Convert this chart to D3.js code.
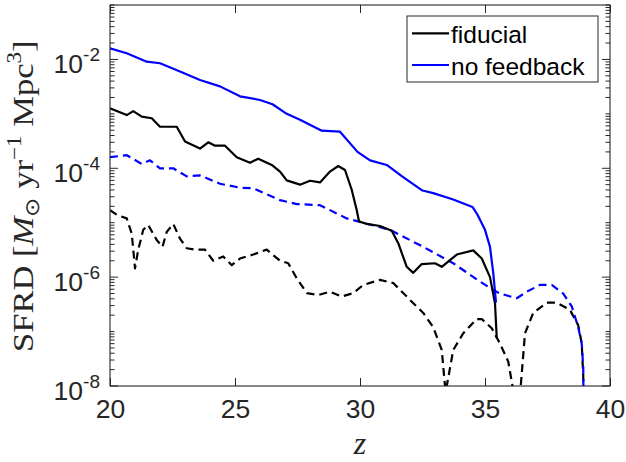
<!DOCTYPE html>
<html lang="en">
<head>
<meta charset="utf-8">
<title>SFRD vs z</title>
<script src="https://d3js.org/d3.v7.min.js"></script>
<style>
  body { margin: 0; background: #fff; }
  svg { display: block; }
</style>
</head>
<body>
<svg width="626" height="462"></svg>
<script>
// values (SFRD in M_sun / yr / Mpc^3)
var fidSolidZ = [20, 20.67, 20.93, 21.27, 21.67, 22.0, 22.67, 23.0, 23.6, 23.93, 24.2, 24.6, 25.07, 25.6, 25.93, 26.47,
  26.8, 27.07, 27.6, 28.0, 28.4, 28.8, 29.13, 29.4, 29.67, 29.87, 29.96, 30.27, 30.8, 31.27, 31.53, 31.87, 32.13,
  32.47, 33.0, 33.27, 33.87, 34.53, 34.87, 35.2, 35.4, 35.47];
var fidSolidV = [1.26e-3, 9.5e-4, 1.12e-3, 8.9e-4, 8.3e-4, 5.8e-4, 5.8e-4, 3.1e-4, 2.3e-4, 3.0e-4, 2.6e-4, 2.6e-4, 1.6e-4, 1.26e-4, 1.5e-4, 1.15e-4,
  8.7e-5, 6.0e-5, 5.0e-5, 5.9e-5, 5.5e-5, 8.7e-5, 1.1e-4, 9.3e-5, 4.0e-5, 1.7e-5, 1.05e-5, 9.5e-6, 8.7e-6, 7.1e-6, 4.2e-6, 1.55e-6, 1.2e-6,
  1.74e-6, 1.8e-6, 1.55e-6, 2.6e-6, 3.1e-6, 2.2e-6, 1.0e-6, 3.3e-7, 7.6e-8];

var noFbSolidZ = [20, 20.67, 21.47, 22.0, 22.8, 23.6, 24.4, 25.2, 26.0, 26.5, 27.07, 27.6, 28.47, 29.2, 29.9, 30.4,
  31.07, 31.67, 32.5, 32.93, 33.7, 34.5, 34.7, 35.0, 35.2, 35.33, 35.44];
var noFbSolidV = [1.6e-2, 1.3e-2, 9.1e-3, 8.5e-3, 6.0e-3, 4.2e-3, 3.2e-3, 2.1e-3, 1.8e-3, 1.5e-3, 1.0e-3, 7.8e-4, 4.9e-4, 4.7e-4, 2.0e-4, 1.4e-4,
  1.15e-4, 7.2e-5, 3.9e-5, 3.5e-5, 2.7e-5, 1.95e-5, 1.4e-5, 7.4e-6, 3.6e-6, 1.2e-6, 3.4e-7];

var fidDashZ = [20, 20.27, 20.67, 20.87, 21.0, 21.13, 21.33, 21.53, 21.87, 22.1, 22.27, 22.53, 22.8, 23.07, 23.4, 23.8,
  24.13, 24.53, 24.87, 25.2, 25.73, 26.27, 26.8, 27.13, 27.47, 27.87, 28.33, 28.8, 29.27, 29.73, 30.13, 30.8,
  31.33, 31.87, 32.0, 32.53, 32.93, 33.27, 33.4, 33.43, 33.47, 33.73, 34.13, 34.67, 34.87, 35.27, 35.6, 35.93,
  36.1, 36.25, 36.43, 36.6, 36.93, 37.47, 37.87, 38.4, 38.73, 38.87, 38.93, 38.96];
var fidDashV = [1.7e-5, 1.4e-5, 1.2e-5, 6.3e-6, 1.45e-6, 3.2e-6, 7.4e-6, 9.1e-6, 4.8e-6, 3.6e-6, 6.8e-6, 9.5e-6, 5.1e-6, 3.4e-6, 3.2e-6, 3.2e-6,
  2.0e-6, 2.4e-6, 1.66e-6, 2.2e-6, 2.6e-6, 3.2e-6, 2.0e-6, 1.8e-6, 9.5e-7, 5.1e-7, 4.7e-7, 5.4e-7, 4.4e-7, 5.1e-7, 7.2e-7, 8.9e-7,
  7.8e-7, 4.4e-7, 3.8e-7, 2.2e-7, 1.2e-7, 4.6e-8, 1e-8, 1e-10, 1e-8, 4.6e-8, 9.3e-8, 1.7e-7, 1.7e-7, 1.15e-7, 6.0e-8, 2.8e-8,
  1e-8, 1e-10, 1e-8, 9.3e-8, 2.2e-7, 3.4e-7, 3.4e-7, 2.5e-7, 1.3e-7, 6.0e-8, 1.5e-8, 1e-10];

var noFbDashZ = [20, 20.67, 21.27, 21.6, 22.0, 22.53, 23.07, 23.6, 24.4, 25.2, 25.73, 26.8, 27.47, 28.4, 29.47, 31.2,
  32.53, 33.73, 34.8, 35.33, 35.6, 36.27, 36.67, 37.2, 37.67, 38.13, 38.47, 38.73, 38.87, 38.93, 38.97];
var noFbDashV = [1.6e-4, 1.74e-4, 1.2e-4, 1.4e-4, 1.0e-4, 1.0e-4, 7.1e-5, 7.4e-5, 5.2e-5, 4.4e-5, 4.3e-5, 2.6e-5, 2.2e-5, 2.1e-5, 1.2e-5, 7.4e-6,
  3.6e-6, 1.8e-6, 8.3e-7, 5.8e-7, 5.0e-7, 4.1e-7, 5.4e-7, 7.2e-7, 7.2e-7, 5.0e-7, 2.9e-7, 1.2e-7, 6.0e-8, 2.2e-8, 1e-10];

var xTicks = [20, 25, 30, 35, 40];
var yTickExps = [-8, -6, -4, -2];
var legendLabels = ["fiducial", "no feedback"];
var legendColors = ["#000000", "#0000ff"];

var axisCol = "#262626";
var L = 110, R = 610, T = 5, B = 386;

var svg = d3.select("svg");
var x = d3.scaleLinear().domain([20, 40]).range([L, R]);
var y = d3.scaleLog().domain([1e-8, 1e-1]).range([B, T]);

svg.append("clipPath").attr("id", "plotclip")
  .append("rect").attr("x", L).attr("y", T).attr("width", R - L).attr("height", B - T);

function pairs(zs, vs) { return zs.map(function (z, i) { return [z, vs[i]]; }); }
var line = d3.line().x(function (d) { return x(d[0]); }).y(function (d) { return y(d[1]); });

var series = [
  { data: pairs(fidDashZ, fidDashV), color: "#000000", dash: "8,5" },
  { data: pairs(noFbDashZ, noFbDashV), color: "#0000ff", dash: "8,5" },
  { data: pairs(fidSolidZ, fidSolidV), color: "#000000", dash: null },
  { data: pairs(noFbSolidZ, noFbSolidV), color: "#0000ff", dash: null }
];

var g = svg.append("g").attr("clip-path", "url(#plotclip)");
series.forEach(function (s) {
  g.append("path")
    .attr("d", line(s.data))
    .attr("fill", "none")
    .attr("stroke", s.color)
    .attr("stroke-width", 2.2)
    .attr("stroke-linejoin", "round")
    .attr("stroke-dasharray", s.dash);
});

// box
svg.append("rect").attr("x", L).attr("y", T).attr("width", R - L).attr("height", B - T)
  .attr("fill", "none").attr("stroke", axisCol).attr("stroke-width", 1.1);

// x ticks (bottom + top, inward)
var xaxB = d3.axisBottom(x).tickValues(xTicks).tickSizeInner(-8).tickSizeOuter(0).tickPadding(12);
var gxb = svg.append("g").attr("transform", "translate(0," + B + ")").call(xaxB);
gxb.select(".domain").remove();
gxb.selectAll("line").attr("stroke", axisCol);
gxb.selectAll("text").attr("font-family", "Liberation Sans, Arial, sans-serif")
  .attr("font-size", 26.5).attr("fill", axisCol).attr("dy", "0.74em");

var xaxT = d3.axisTop(x).tickValues(xTicks).tickSizeInner(-8).tickSizeOuter(0).tickFormat("");
var gxt = svg.append("g").attr("transform", "translate(0," + T + ")").call(xaxT);
gxt.select(".domain").remove();
gxt.selectAll("line").attr("stroke", axisCol);

// y ticks, log minor ticks, both sides
var minor = [];
for (var e = -8; e < -1; e++) {
  for (var m = 1; m <= 9; m++) minor.push(m * Math.pow(10, e));
}
minor.push(1e-1);
var major = yTickExps.map(function (k) { return Math.pow(10, k); });

[[L, 1], [R, -1]].forEach(function (side) {
  var gy = svg.append("g");
  gy.selectAll("line.minor").data(minor).enter().append("line")
    .attr("x1", side[0]).attr("x2", function (d) {
      var isMajor = major.some(function (v) { return Math.abs(v / d - 1) < 1e-6; });
      return side[0] + side[1] * (isMajor ? 8 : 4.5);
    })
    .attr("y1", function (d) { return y(d); }).attr("y2", function (d) { return y(d); })
    .attr("stroke", axisCol).attr("stroke-width", 1);
});

// y tick labels 10^k
var yl = svg.append("g").attr("font-family", "Liberation Sans, Arial, sans-serif").attr("fill", axisCol);
yTickExps.forEach(function (k) {
  var t = yl.append("text").attr("x", 100).attr("y", y(Math.pow(10, k)) + 14).attr("text-anchor", "end");
  t.append("tspan").attr("font-size", 26.5).text("10");
  t.append("tspan").attr("font-size", 19).attr("dy", -12).text(String(k).replace("-", "-"));
});

// axis labels
svg.append("text").attr("x", 360).attr("y", 454).attr("text-anchor", "middle")
  .attr("font-family", "Liberation Serif, serif").attr("font-style", "italic")
  .attr("font-size", 32).attr("fill", axisCol).text("z");

var ylab = svg.append("text").attr("font-family", "Liberation Serif, serif")
  .attr("font-size", 30).attr("fill", axisCol);
ylab.append("tspan").text("SFRD [");
ylab.append("tspan").attr("font-style", "italic").text("M");
ylab.append("tspan").attr("font-size", 20).attr("dy", 6).text("\u2299");
ylab.append("tspan").attr("dy", -6).text(" yr");
ylab.append("tspan").attr("font-size", 20).attr("dy", -12).text("\u22121");
ylab.append("tspan").attr("dy", 12).text(" Mpc");
ylab.append("tspan").attr("font-size", 20).attr("dy", -12).text("3");
ylab.append("tspan").attr("dy", 12).text("]");
var w = ylab.node().getComputedTextLength();
ylab.attr("transform", "translate(33,196) rotate(-90) scale(" + (312 / w) + ",1) translate(" + (-w / 2) + ",0)");

// legend
var lg = svg.append("g");
lg.append("rect").attr("x", 407).attr("y", 16).attr("width", 191).attr("height", 66)
  .attr("fill", "#fff").attr("stroke", axisCol).attr("stroke-width", 1);
legendLabels.forEach(function (lab, i) {
  var cy = 33.3 + i * 31.7;
  lg.append("line").attr("x1", 412).attr("x2", 449).attr("y1", cy).attr("y2", cy)
    .attr("stroke", legendColors[i]).attr("stroke-width", 2.2);
  lg.append("text").attr("x", 451).attr("y", cy + 10).attr("font-family", "Liberation Sans, Arial, sans-serif")
    .attr("font-size", 24.5).attr("fill", "#000").text(lab);
});
</script>
</body>
</html>
